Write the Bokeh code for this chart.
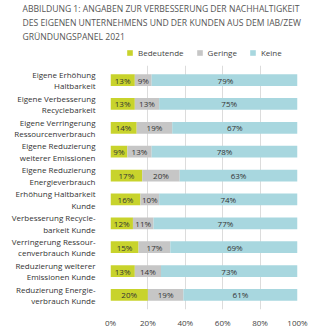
from bokeh.plotting import figure
from bokeh.layouts import column
from bokeh.models import (ColumnDataSource, FixedTicker, PrintfTickFormatter, Title,
                          Legend, LegendItem, FactorRange, Range1d)
from bokeh.core.properties import value
from bokeh.embed import file_html
from bokeh.resources import INLINE

categories = [
    "Eigene Erhöhung\nHaltbarkeit",
    "Eigene Verbesserung\nRecyclebarkeit",
    "Eigene Verringerung\nRessourcenverbrauch",
    "Eigene Reduzierung\nweiterer Emissionen",
    "Eigene Reduzierung\nEnergieverbrauch",
    "Erhöhung Haltbarkeit\nKunde",
    "Verbesserung Recycle-\nbarkeit Kunde",
    "Verringerung Ressour-\ncenverbrauch Kunde",
    "Reduzierung weiterer\nEmissionen Kunde",
    "Reduzierung Energie-\nverbrauch Kunde",
]
bedeutende = [13, 13, 14, 9, 17, 16, 12, 15, 13, 20]
geringe = [9, 13, 19, 13, 20, 10, 11, 17, 14, 19]
keine = [79, 75, 67, 78, 63, 74, 77, 69, 73, 61]
series = ["Bedeutende", "Geringe", "Keine"]
colors = ["#c8d32c", "#c6c6c6", "#a8d7df"]
title_lines = [
    "ABBILDUNG 1: ANGABEN ZUR VERBESSERUNG DER NACHHALTIGKEIT",
    "DES EIGENEN UNTERNEHMENS UND DER KUNDEN AUS DEM IAB/ZEW",
    "GRÜNDUNGSPANEL 2021",
]
x_ticks = [0, 20, 40, 60, 80, 100]

FONT = "Open Sans"

# ---------- header (title + legend) ----------
head = figure(width=330, height=65, x_range=Range1d(0, 1), y_range=Range1d(0, 1),
              output_backend="svg", toolbar_location=None,
              min_border_left=110, min_border_right=33, min_border_top=39,
              min_border_bottom=0)
head.axis.visible = False
head.grid.visible = False
head.outline_line_color = None
head.border_fill_color = "white"

for line in title_lines[::-1]:
    head.add_layout(Title(text=line, text_font=FONT, text_font_size="8.6px",
                          text_color="#555555", text_font_style="normal",
                          align="left", offset=-88, standoff=0), "above")

# zero-width proxy bars that only provide the legend swatches
proxy = [head.hbar(y=[0.5], left=[0], right=[0], height=0, color=c, line_color=None)
         for c in colors]
legend = Legend(items=[LegendItem(label=s, renderers=[r]) for s, r in zip(series, proxy)],
                orientation="horizontal", location=(16, 7),
                glyph_width=7, glyph_height=7, label_height=10, label_standoff=5,
                spacing=12, padding=0, margin=0, border_line_color=None,
                background_fill_alpha=0, label_text_font=FONT,
                label_text_font_size="8px", label_text_color="#444444")
head.add_layout(legend, "center")

# ---------- main chart ----------
p = figure(width=330, height=265,
           y_range=FactorRange(*categories[::-1], range_padding=0.11,
                               range_padding_units="absolute"),
           x_range=(0, 100), output_backend="svg", toolbar_location=None,
           min_border_left=110, min_border_right=33, min_border_top=0,
           min_border_bottom=14)
p.outline_line_color = None
p.background_fill_color = "white"
p.border_fill_color = "white"

src = ColumnDataSource(dict(cat=categories, Bedeutende=bedeutende,
                            Geringe=geringe, Keine=keine))
p.hbar_stack(series, y="cat", height=0.49, color=colors, source=src, line_color=None)

lx, ly, lt = [], [], []
for i, c in enumerate(categories):
    start = 0
    for vals in (bedeutende, geringe, keine):
        v = vals[i]
        lx.append(start + v / 2)
        ly.append(c)
        lt.append(f"{v}%")
        start += v
lsrc = ColumnDataSource(dict(x=lx, y=ly, t=lt))
p.text(x="x", y="y", text="t", source=lsrc, text_align="center",
       text_baseline="middle", text_font_size="8px", text_color="#333333",
       text_font=value(FONT))

p.ygrid.grid_line_color = None
p.xgrid.ticker = FixedTicker(ticks=x_ticks)
p.xgrid.grid_line_color = "#dcdcdc"
p.xgrid.grid_line_width = 1

p.xaxis.ticker = FixedTicker(ticks=x_ticks)
p.xaxis.formatter = PrintfTickFormatter(format="%d%%")
p.xaxis.axis_line_color = None
p.xaxis.major_tick_line_color = None
p.xaxis.minor_tick_line_color = None
p.xaxis.major_label_standoff = 1
p.xaxis.major_label_text_font = FONT
p.xaxis.major_label_text_font_size = "8px"
p.xaxis.major_label_text_color = "#444444"

p.yaxis.axis_line_color = None
p.yaxis.major_tick_line_color = None
p.yaxis.minor_tick_line_color = None
p.yaxis.major_label_standoff = 9
p.yaxis.major_label_text_font = FONT
p.yaxis.major_label_text_font_size = "8px"
p.yaxis.major_label_text_color = "#333333"
p.yaxis.major_label_text_line_height = 1.05

layout = column(head, p, spacing=0)
open("out.html", "w").write(file_html(layout, INLINE))
